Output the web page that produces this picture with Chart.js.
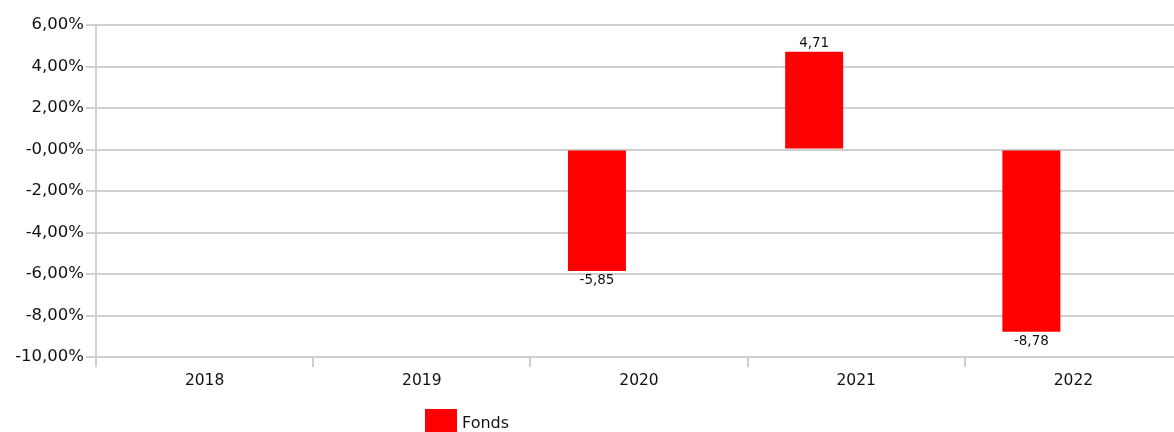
<!DOCTYPE html>
<html>
<head>
<meta charset="utf-8">
<script src="https://cdn.jsdelivr.net/npm/chart.js@4/dist/chart.umd.min.js"></script>
<style>
  html, body { margin: 0; padding: 0; background: #fff; overflow: hidden; }
  #wrap { position: absolute; left: 0; top: 0; width: 1182px; height: 432px; }
  #legend { position: absolute; left: 425px; top: 409px; font: 16px "DejaVu Sans", sans-serif; color: #111; white-space: nowrap; }
  #legend span.box { display: inline-block; width: 32px; height: 24px; vertical-align: top; margin-right: 5px; }
  #legend span.txt { display: inline-block; line-height: 28px; vertical-align: top; }
</style>
</head>
<body>
<div id="wrap"><canvas id="myBarChart" width="1182" height="432"></canvas></div>
<div id="legend"></div>
<script>
// data
var years = ["2018", "2019", "2020", "2021", "2022"];
var fondsValues = [null, null, -5.85, 4.71, -8.78];
var vergleichValues = [null, null, null, null, null]; // empty second series, keeps the bars left in each slot
var yTickValues = [-10, -8, -6, -4, -2, 0, 2, 4, 6];
var yTickLabels = ["-10,00%", "-8,00%", "-6,00%", "-4,00%", "-2,00%", "-0,00%", "2,00%", "4,00%", "6,00%"];

var gridColor = "#d0d0d0";
var textColor = "#111";

// draws the value over / under each bar
var valueLabels = {
  id: "valueLabels",
  afterDatasetsDraw: function(chart) {
    var ctx = chart.ctx;
    var meta = chart.getDatasetMeta(0);
    ctx.save();
    ctx.font = "13.5px 'DejaVu Sans', sans-serif";
    ctx.fillStyle = textColor;
    ctx.textAlign = "center";
    meta.data.forEach(function(bar, i) {
      var v = fondsValues[i];
      if (v === null) return;
      var txt = v.toFixed(2).replace(".", ",");
      if (v >= 0) {
        ctx.textBaseline = "bottom";
        ctx.fillText(txt, bar.x, bar.y - 2);
      } else {
        ctx.textBaseline = "top";
        ctx.fillText(txt, bar.x, bar.y + 3);
      }
    });
    ctx.restore();
  }
};

var chartdata = {
  labels: years,
  datasets: [
    {
      label: "Fonds",
      data: fondsValues,
      backgroundColor: "#ff0000",
      borderWidth: 0,
      categoryPercentage: 0.774,
      barPercentage: 0.69
    },
    {
      label: "",
      data: vergleichValues,
      backgroundColor: "#0000ff",
      categoryPercentage: 0.774,
      barPercentage: 0.69
    }
  ]
};

var options = {
  responsive: false,
  animation: false,
  layout: { padding: { left: 0, top: 25, right: 0, bottom: 0 } },
  plugins: {
    legend: { display: false },
    tooltip: { enabled: false }
  },
  scales: {
    x: {
      offset: true,
      grid: {
        offset: true,
        drawOnChartArea: false,
        drawTicks: true,
        tickLength: 10,
        color: gridColor,
        lineWidth: 2
      },
      border: { display: false },
      ticks: {
        font: { family: "'DejaVu Sans', sans-serif", size: 15.5 },
        color: textColor,
        padding: 5,
        maxRotation: 0
      },
      afterFit: function(scale) { scale.height = 75; }
    },
    y: {
      min: -10,
      max: 6,
      afterBuildTicks: function(scale) {
        scale.ticks = yTickValues.map(function(v) { return { value: v }; });
      },
      grid: {
        color: gridColor,
        lineWidth: 2,
        tickLength: 10
      },
      border: { display: true, color: gridColor, width: 2 },
      ticks: {
        font: { family: "'DejaVu Sans', sans-serif", size: 16.5 },
        color: textColor,
        padding: 2,
        callback: function(value) {
          return yTickLabels[yTickValues.indexOf(value)];
        }
      },
      afterFit: function(scale) { scale.width = 96; }
    }
  }
};

var ctx = document.getElementById("myBarChart");
var chart = new Chart(ctx, {
  type: "bar",
  data: chartdata,
  options: options,
  plugins: [valueLabels]
});

// legend, only the Fonds series
var lg = document.getElementById("legend");
lg.innerHTML = '<span class="box" style="background:' + chartdata.datasets[0].backgroundColor + '"></span><span class="txt">' + chartdata.datasets[0].label + '</span>';
</script>
</body>
</html>
